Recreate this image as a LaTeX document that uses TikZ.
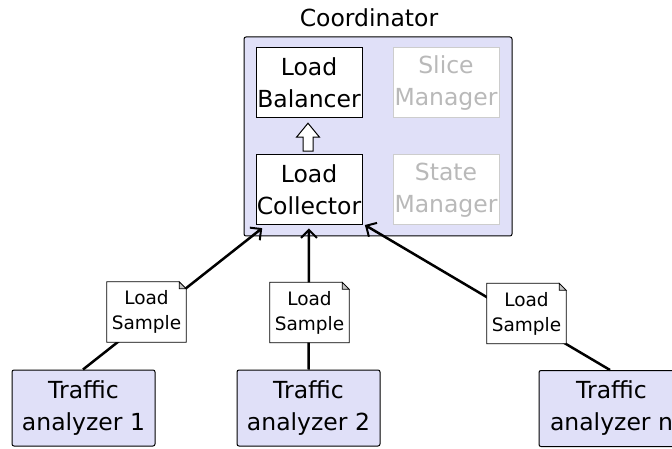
\documentclass[tikz,border=0pt]{standalone}
\usepackage{fontspec}
\setmainfont{DejaVu Sans}
\usetikzlibrary{arrows.meta,calc}
\definecolor{lav}{RGB}{224,224,248}
\definecolor{dimtext}{RGB}{185,185,185}
\definecolor{dimline}{RGB}{205,205,205}
\tikzset{
  bigtext/.style={font=\fontsize{23.5}{32}\selectfont, align=center},
  container/.style={draw=black, line width=1pt, fill=lav, rounded corners=2pt, inner sep=0pt},
  module/.style={draw=black, line width=1pt, fill=white, inner sep=0pt,
    minimum width=106pt, minimum height=70pt, bigtext},
  idle/.style={draw=dimline, line width=1pt, fill=white, inner sep=0pt,
    minimum width=106pt, minimum height=70pt, bigtext, text=dimtext},
  analyzer/.style={container, minimum width=143pt, minimum height=76pt, bigtext},
  sample/.style={inner sep=0pt, minimum width=79pt, minimum height=60pt,
    font=\fontsize{18.5}{25}\selectfont, align=center},
  link/.style={line width=2.5pt},
  feed/.style={link, -{Straight Barb[length=8pt,width=16pt,line width=2pt]}, shorten >=1pt},
}
% note sheet with a folded top-right corner, drawn over the node's frame
\newcommand{\dognote}[1]{%
  \draw[line width=0.8pt, fill=white] (#1.south west) -- (#1.south east)
    -- ([yshift=-7pt]#1.north east) -- ([xshift=-7pt]#1.north east)
    -- (#1.north west) -- cycle;
  \draw[line width=0.8pt, fill=gray!45] ([xshift=-7pt]#1.north east)
    -- ([xshift=-7pt,yshift=-7pt]#1.north east) -- ([yshift=-7pt]#1.north east) -- cycle;
}
\begin{document}
\begin{tikzpicture}[x=1pt,y=-1pt]
\useasboundingbox (0,0) rectangle (672,449);
\fill[white] (0,0) rectangle (672,449);

% coordinator and its modules
\node[bigtext, anchor=base] (ctitle) at (369,27) {Coordinator};
\node[container, minimum width=268pt, minimum height=199pt] (coord) at (378,136.5) {};
\node[module] (lb) at (309,83) {Load\\Balancer};
\node[idle]   (sm) at (446,83) {Slice\\Manager};
\node[module] (lc) at (309,190) {Load\\Collector};
\node[idle]   (st) at (446,190) {State\\Manager};

% hand-over from collector to balancer (hollow block arrow)
\draw[line width=1pt, fill=white] ($(lb.south)+(-1,4.7)$) -- ++(11.5,14) -- ++(-6.5,0)
  -- ++(0,14) -- ++(-10,0) -- ++(0,-14) -- ++(-6.5,0) -- cycle;

% traffic analyzers
\node[analyzer] (ta1) at (83.5,408) {Traffic\\analyzer 1};
\node[analyzer] (ta2) at (308.5,408) {Traffic\\analyzer 2};
\node[analyzer, minimum width=145pt] (tan) at (611.5,408.5) {Traffic\\analyzer n};

% reports flowing to the collector
\coordinate (c1) at (263,227.5);
\coordinate (c2) at (309,227.5);
\coordinate (c3) at (364,224.5);
\draw[feed] ([xshift=-0.5pt]ta1.north) -- (c1);
\draw[feed] (ta2.north) -- (c2);
\draw[feed] ([xshift=-1.5pt]tan.north) -- (c3);

% load sample notes on the links
\node[sample] (s1) at (146.5,312) {};
\node[sample] (s2) at (309.5,312.5) {};
\node[sample] (s3) at (526.5,313.5) {};
\dognote{s1}\dognote{s2}\dognote{s3}
\node[sample] at (s1) {Load\\Sample};
\node[sample] at (s2) {Load\\Sample};
\node[sample] at (s3) {Load\\Sample};
\end{tikzpicture}
\end{document}
